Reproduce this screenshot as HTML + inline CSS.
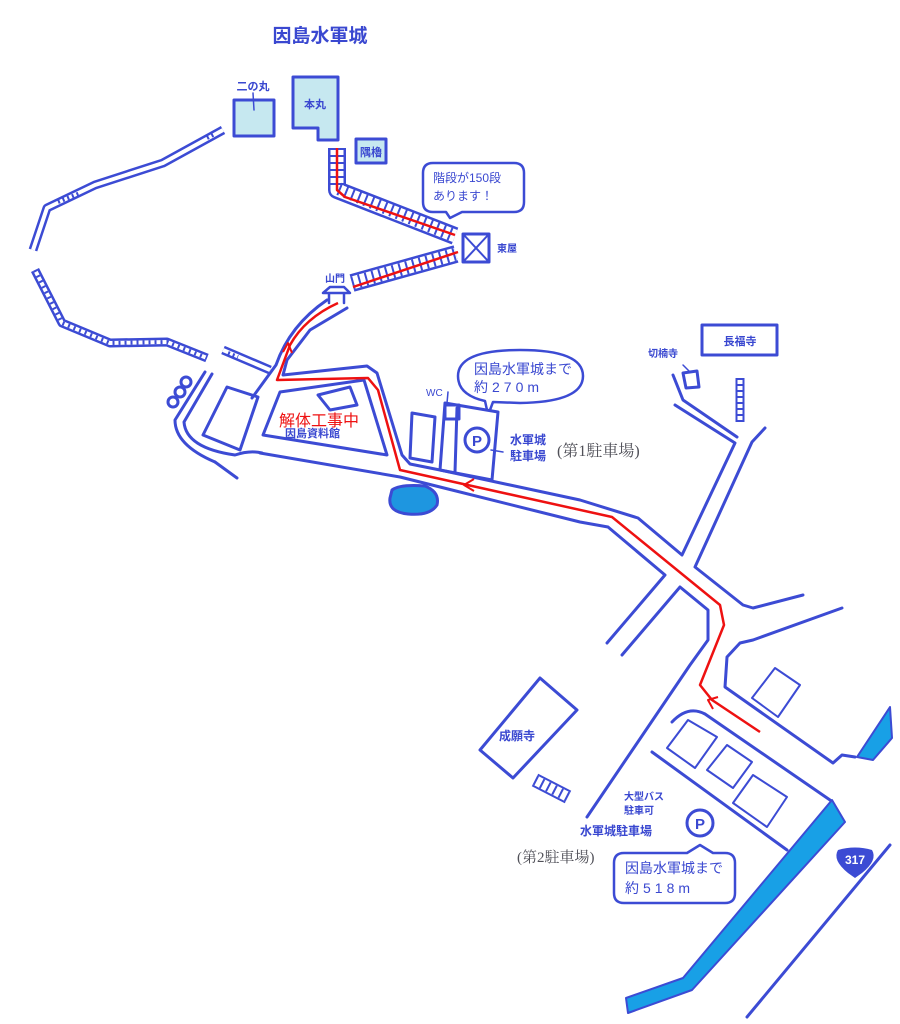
<!DOCTYPE html>
<html><head><meta charset="utf-8"><style>
html,body{margin:0;padding:0;background:#fff;}
svg{display:block;}
text{font-family:"Liberation Sans","Noto Sans CJK JP",sans-serif;}
.b{fill:#3a48d0;font-weight:bold;}
.s{fill:#505058;font-family:"Liberation Serif","Noto Serif CJK SC",serif;}
</style></head><body>
<svg width="900" height="1024" viewBox="0 0 900 1024" xmlns="http://www.w3.org/2000/svg">
<g fill="none" stroke="#3c4bd4" stroke-width="3" stroke-linejoin="round" stroke-linecap="round">
<g stroke-linecap="butt">
<polyline points="223,130 163,163 95,185 47,208 33,250" stroke-width="9"/>
<polyline points="35,270 62,323 110,343 167,342 207,358" stroke-width="9"/>
<polyline points="223,350 270,370" stroke-width="9"/>
<polyline points="223,130 163,163 95,185 47,208 33,250" stroke="#fff" stroke-width="4"/>
<polyline points="35,270 62,323 110,343 167,342 207,358" stroke="#fff" stroke-width="4"/>
<polyline points="223,350 270,370" stroke="#fff" stroke-width="4"/>
<polyline points="35,270 62,323 110,343 167,342 207,358" stroke-width="4" stroke-dasharray="2 4"/>
<polyline points="58,202 80,193" stroke-width="4" stroke-dasharray="2 3"/>
<polyline points="207,138 215,134" stroke-width="4" stroke-dasharray="2 3"/>
<polyline points="228,353 238,357" stroke-width="4" stroke-dasharray="2 3"/>
<!-- castle stairs -->
<polyline points="337,148 337,190 455,236" stroke-width="18"/>
<polyline points="352,283 456,254" stroke-width="18"/>
<polyline points="337,148 337,190 455,236" stroke="#fff" stroke-width="13"/>
<polyline points="352,283 456,254" stroke="#fff" stroke-width="13"/>
<polyline points="337,148 337,188 455,236" stroke-width="13" stroke-dasharray="2 5"/>
<polyline points="352,283 456,254" stroke-width="13" stroke-dasharray="2 5"/>
<line x1="740" y1="378" x2="740" y2="422" stroke-width="9"/>
<line x1="740" y1="378" x2="740" y2="422" stroke="#fff" stroke-width="5"/>
<line x1="740" y1="378" x2="740" y2="422" stroke-width="5" stroke-dasharray="2 4"/>
<line x1="535" y1="780" x2="568" y2="797" stroke-width="14"/>
<line x1="535" y1="780" x2="568" y2="797" stroke="#fff" stroke-width="10"/>
<line x1="535" y1="780" x2="568" y2="797" stroke-width="10" stroke-dasharray="2 5"/>
</g>
<!-- roads -->
<path d="M327,300 Q290,325 276,365 L252,398"/>
<polyline points="347,308 310,330 287,360 283,375 367,366 377,373 402,455 410,464 440,470 580,500 638,518 682,555 735,443 675,405"/>
<polyline points="673,375 683,400 737,437"/>
<polyline points="765,428 752,442 695,567 743,605 753,608 803,595"/>
<polyline points="260,453 400,477 440,487 580,522 608,527 665,575 607,643"/>
<polyline points="622,655 680,587 708,610 708,640 690,665 587,817"/>
<polyline points="842,608 753,640 740,643 727,657 725,687 833,763 842,755 855,757"/>
<path d="M652,752 L787,850"/>
<path d="M672,722 Q688,705 705,714 L830,800"/>
<line x1="890" y1="845" x2="747" y2="1017"/>
<path d="M205,372 L175,420 Q175,445 215,462"/>
<path d="M212,374 L184,422 Q186,448 235,455 Q250,450 262,453"/>
<path d="M215,462 L237,478"/>
<polygon points="227,387 258,397 240,450 203,435"/>
<circle cx="173" cy="402" r="5"/><circle cx="180" cy="392" r="5"/><circle cx="186" cy="382" r="5"/>
<polygon points="280,392 364,380 387,455 263,435"/>
<polygon points="318,395 350,387 357,405 330,410"/>
<polygon points="412,413 435,417 432,462 410,458"/>
<polygon points="445,403 498,412 492,480 440,470"/>
<line x1="457" y1="408" x2="455" y2="472"/>
<rect x="445" y="405" width="14" height="14"/>
<line x1="448" y1="392" x2="447" y2="403" stroke-width="1.5"/>
<circle cx="477" cy="440" r="12"/>
<line x1="491" y1="450" x2="503" y2="452" stroke-width="1.5"/>
<polygon points="688,720 717,737 695,768 667,748" stroke-width="2"/>
<polygon points="727,745 752,762 733,788 707,770" stroke-width="2"/>
<polygon points="753,775 787,797 767,827 733,803" stroke-width="2"/>
<polygon points="775,668 800,685 778,717 752,698" stroke-width="2"/>
<circle cx="700" cy="823" r="13"/>
<polygon points="540,678 577,710 513,778 480,750"/>
<rect x="702" y="325" width="75" height="30"/>
<polygon points="683,373 697,371 699,387 686,388"/>
<line x1="683" y1="365" x2="690" y2="372" stroke-width="1.5"/>
<rect x="234" y="100" width="40" height="36" fill="#c6e8f0"/>
<polygon points="293,77 338,77 338,140 318,140 318,128 293,128" fill="#c6e8f0"/>
<rect x="356" y="139" width="30" height="24" fill="#c6e8f0"/>
<line x1="253" y1="93" x2="254" y2="110" stroke-width="1.5"/>
<rect x="463" y="234" width="26" height="28"/>
<line x1="463" y1="234" x2="489" y2="262" stroke-width="2"/>
<line x1="489" y1="234" x2="463" y2="262" stroke-width="2"/>
<path d="M323,293 L330,287 L344,287 L350,293 Z M329,293 L329,303 M344,293 L344,303" stroke-width="2.5"/>
<path d="M392,490 Q400,484 425,486 Q440,492 437,505 Q430,516 408,514 Q388,512 390,498 Z" fill="#1e96e0"/>
<polygon points="832,800 845,822 692,990 628,1013 626,998 683,978" fill="#18a0e6" stroke-width="2"/>
<polygon points="857,757 890,707 892,738 873,760" fill="#18a0e6" stroke-width="2"/>
<path d="M433,163 L514,163 Q524,163 524,173 L524,202 Q524,212 514,212 L462,212 L450,218 L446,212 L433,212 Q423,212 423,202 L423,173 Q423,163 433,163 Z" stroke-width="2.5"/>
<path d="M487,410 L485,401 Q458,395 458,376 Q458,350 520,350 Q583,350 583,376 Q583,402 520,403 L493,402 L490,410" stroke-width="2.5"/>
<path d="M624,853 L687,853 L700,845 L713,853 L725,853 Q735,853 735,863 L735,893 Q735,903 725,903 L624,903 Q614,903 614,893 L614,863 Q614,853 624,853 Z" stroke-width="2.5"/>
</g>
<g fill="none" stroke="#ee1111" stroke-width="2.5" stroke-linejoin="round">
<polyline points="337,148 337,190 345,197 455,235"/>
<polyline points="353,287 458,252"/>
<path d="M338,303 Q305,318 290,345 L277,380 L368,378 L378,390 L400,470 L612,517 L720,605 L724,625 L700,685 L712,700 L760,732"/>
<polyline points="283,352 288,343 292,353" stroke-width="2"/>
<polyline points="474,479 464,485 474,491" stroke-width="2"/>
<polyline points="718,697 708,700 713,709" stroke-width="2"/>
</g>
<path d="M838,850 Q855,845 872,850 Q878,860 862,873 L855,878 L848,873 Q832,860 838,850 Z" fill="#3c4bd4"/>
<text x="855" y="864" font-size="12" fill="#fff" text-anchor="middle" font-weight="bold">317</text>
<text x="320" y="42" font-size="19" class="b" text-anchor="middle">因島水軍城</text>
<text x="253" y="90" font-size="11" class="b" text-anchor="middle">二の丸</text>
<text x="315" y="108" font-size="11" class="b" text-anchor="middle">本丸</text>
<text x="371" y="156" font-size="11" class="b" text-anchor="middle">隅櫓</text>
<text x="497" y="252" font-size="10" class="b">東屋</text>
<text x="335" y="282" font-size="10" class="b" text-anchor="middle">山門</text>
<text x="433" y="182" font-size="12" fill="#3a48d0">階段が150段</text>
<text x="433" y="200" font-size="12" fill="#3a48d0">あります！</text>
<text x="474" y="374" font-size="14" fill="#3a48d0">因島水軍城まで</text>
<text x="474" y="392" font-size="14" fill="#3a48d0" letter-spacing="4">約270m</text>
<text x="426" y="396" font-size="10" fill="#3a48d0">WC</text>
<text x="477" y="446" font-size="15" class="b" text-anchor="middle">P</text>
<text x="510" y="444" font-size="12" class="b">水軍城</text>
<text x="510" y="460" font-size="12" class="b">駐車場</text>
<text x="557" y="456" font-size="16" class="s">(第1駐車場)</text>
<text x="279" y="426" font-size="16" fill="#ee1111">解体工事中</text>
<text x="285" y="437" font-size="11" class="b">因島資料館</text>
<text x="740" y="345" font-size="11" class="b" text-anchor="middle">長福寺</text>
<text x="663" y="357" font-size="10" class="b" text-anchor="middle">切楠寺</text>
<text x="517" y="740" font-size="12" class="b" text-anchor="middle">成願寺</text>
<text x="624" y="800" font-size="10" class="b">大型バス</text>
<text x="624" y="814" font-size="10" class="b">駐車可</text>
<text x="580" y="835" font-size="12" class="b">水軍城駐車場</text>
<text x="700" y="829" font-size="15" class="b" text-anchor="middle">P</text>
<text x="517" y="862" font-size="15" class="s">(第2駐車場)</text>
<text x="625" y="873" font-size="14" fill="#3a48d0">因島水軍城まで</text>
<text x="625" y="893" font-size="14" fill="#3a48d0" letter-spacing="4">約518m</text>
</svg>
</body></html>
